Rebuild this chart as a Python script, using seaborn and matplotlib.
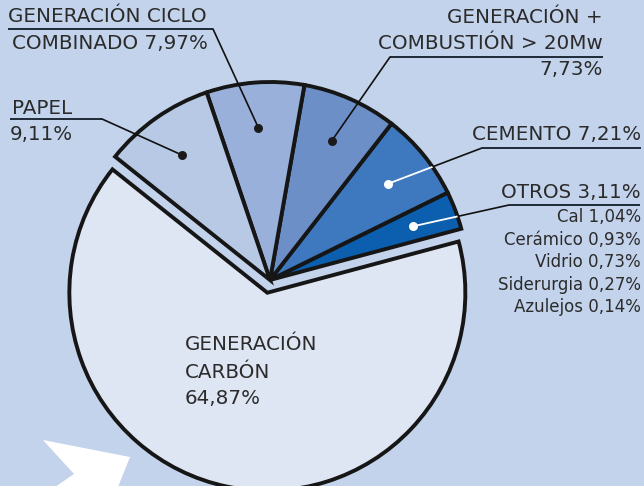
import numpy as np
import matplotlib
matplotlib.use('Agg')
import matplotlib.pyplot as plt
import seaborn as sns
from matplotlib.patches import Polygon

# datos (porcentaje de emisiones por sector)
sectores = ['OTROS', 'CEMENTO', 'GENERACIÓN + COMBUSTIÓN > 20Mw',
            'GENERACIÓN CICLO COMBINADO', 'PAPEL', 'GENERACIÓN CARBÓN']
porcentajes = [3.11, 7.21, 7.73, 7.97, 9.11, 64.87]
otros_nombres = ['Cal', 'Cerámico', 'Vidrio', 'Siderurgia', 'Azulejos']
otros_valores = [1.04, 0.93, 0.73, 0.27, 0.14]
colores = ['#0b5fae', '#3e78bf', '#6c8fc8', '#98b0da', '#b8c9e5', '#dfe6f3']

sns.set_theme(style='white')
plt.rcParams['font.family'] = ['DejaVu Sans']

fondo = '#c2d3eb'
txt = '#2b2b2b'
H = 486


def pct(v):
    return f'{v:.2f}'.replace('.', ',') + '%'


def Y(y):
    return H - y


fig = plt.figure(figsize=(6.44, 4.86), dpi=100)
fig.patch.set_facecolor(fondo)
ax = fig.add_axes([0, 0, 1, 1])
ax.set_facecolor(fondo)

centro = (270, Y(280))
R = 198
# explode va en unidades de datos (px)
wedges, _ = ax.pie(porcentajes, colors=colores, startangle=15, counterclock=True,
                   radius=R, center=centro, explode=[0, 0, 0, 0, 0, 13],
                   wedgeprops=dict(edgecolor='#161616', linewidth=2.8, zorder=2))
ax.set_xlim(0, 644)
ax.set_ylim(0, H)
ax.set_aspect('auto')
ax.axis('off')

# flecha decorativa
ax.add_patch(Polygon([(43, Y(440)), (130, Y(457)), (118, Y(487)), (55, Y(487)), (74, Y(474))],
                     closed=True, facecolor='white', edgecolor='none', zorder=1))

# codos de las lineas guia y subrayados (coordenadas de imagen)
codos = {
    4: ((102, 119), (10, 102)),
    3: ((213, 29), (8, 213)),
    2: ((390, 57), (390, 603)),
    1: ((482, 148), (482, 641)),
    0: ((509, 205), (509, 640)),
}
puntos_blancos = {0, 1}

for i, (codo, sub) in codos.items():
    w = wedges[i]
    th = np.deg2rad((w.theta1 + w.theta2) / 2)
    px = centro[0] + 0.77 * R * np.cos(th)
    py = centro[1] + 0.77 * R * np.sin(th)
    cx, cy = codo[0], Y(codo[1])
    ax.plot(sub, [cy, cy], color='#1f2a38', lw=1.4, zorder=3, solid_capstyle='butt')
    if i in puntos_blancos:
        ax.plot([px, cx], [py, cy], color='#111111', lw=1.2, zorder=1.5)
        ln, = ax.plot([px, cx], [py, cy], color='white', lw=1.3, zorder=3)
        ln.set_clip_path(w)
        ax.scatter([px], [py], s=42, color='white', zorder=4, linewidths=0)
    else:
        ax.plot([px, cx], [py, cy], color='#111111', lw=1.2, zorder=3)
        ax.scatter([px], [py], s=42, color='#1a1a1a', zorder=4, linewidths=0)

fs = 14.3
fs2 = 12
kw = dict(color=txt, va='center', zorder=5)

# PAPEL
ax.text(12, Y(108), sectores[4], fontsize=fs, ha='left', **kw)
ax.text(10, Y(134), pct(porcentajes[4]), fontsize=fs, ha='left', **kw)
# CICLO COMBINADO
ax.text(8, Y(17), 'GENERACIÓN CICLO', fontsize=fs, ha='left', **kw)
ax.text(12, Y(44), 'COMBINADO ' + pct(porcentajes[3]), fontsize=fs, ha='left', **kw)
# COMBUSTION
ax.text(603, Y(18), 'GENERACIÓN +', fontsize=fs, ha='right', **kw)
ax.text(603, Y(44), 'COMBUSTIÓN > 20Mw', fontsize=fs, ha='right', **kw)
ax.text(603, Y(70), pct(porcentajes[2]), fontsize=fs, ha='right', **kw)
# CEMENTO
ax.text(641, Y(134), sectores[1] + ' ' + pct(porcentajes[1]), fontsize=fs, ha='right', **kw)
# OTROS
ax.text(641, Y(192), sectores[0] + ' ' + pct(porcentajes[0]), fontsize=fs, ha='right', **kw)
for k, (n, v) in enumerate(zip(otros_nombres, otros_valores)):
    ax.text(641, Y(217 + 22.6 * k), n + ' ' + pct(v), fontsize=fs2, ha='right', **kw)
# CARBON
ax.text(185, Y(345), 'GENERACIÓN', fontsize=fs, ha='left', **kw)
ax.text(185, Y(372), 'CARBÓN', fontsize=fs, ha='left', **kw)
ax.text(185, Y(398), pct(porcentajes[5]), fontsize=fs, ha='left', **kw)

fig.savefig('out.png', dpi=100, facecolor=fondo)
